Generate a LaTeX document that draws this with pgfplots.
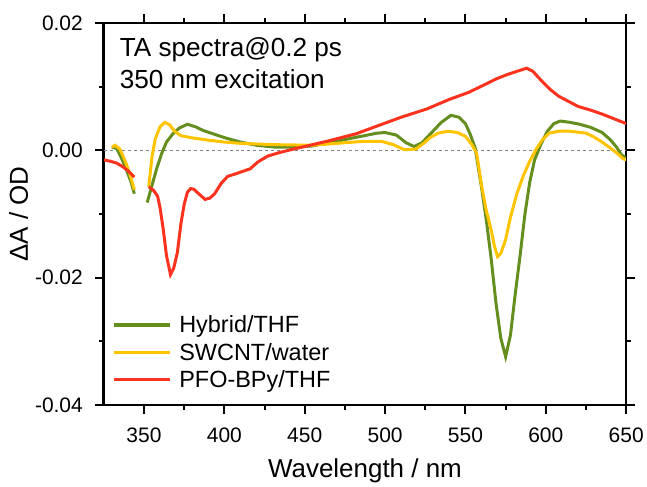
\documentclass[border=0pt]{standalone}
\usepackage{fontspec}
\setmainfont{Liberation Sans}
\usepackage{pgfplots}
\pgfplotsset{compat=1.18}
\definecolor{cgreen}{RGB}{100,142,30}
\definecolor{cyellow}{RGB}{255,195,0}
\definecolor{cred}{RGB}{250,50,30}
\begin{document}
\begin{tikzpicture}
\begin{axis}[
  name=ax,
  scale only axis,
  width=523.5pt, height=383pt,
  xmin=325, xmax=650, ymin=-0.04, ymax=0.02,
  xtick={350,400,...,650},
  ytick={-0.04,-0.02,0,0.02},
  minor x tick num=1, minor y tick num=1,
  tick align=outside,
  major tick length=8.5pt, minor tick length=4.5pt,
  every tick/.style={black, line width=2pt},
  axis line style={line width=2.6pt},
  tick label style={font=\fontsize{21}{25}\selectfont},
  xticklabel shift=11pt,
  yticklabel shift=9pt,
  /pgf/number format/assume math mode=true,
  yticklabel style={/pgf/number format/.cd, fixed, fixed zerofill, precision=2},
  scaled y ticks=false,
  xlabel={Wavelength / nm},
  ylabel={ΔA / OD},
  label style={font=\fontsize{26}{30}\selectfont},
  xlabel style={yshift=-9pt},
  unbounded coords=jump,
  legend style={draw=none, fill=none, at={(rel axis cs:0.016,0.138)}, anchor=west,
    font=\fontsize{23.5}{27}\selectfont, row sep=5pt, inner sep=0pt},
  legend cell align=left,
  legend image code/.code={\draw[#1, line width=3.2pt] (0pt,0pt) -- (56pt,0pt); \path (62pt,0pt);},
  every axis plot/.append style={line width=3pt},
]
\addplot[gray, dashed, line width=1pt, forget plot] coordinates {(325,0) (650,0)};
\addplot[cgreen] table {
x y
330 0.0005
333 0.0003
336 -0.0012
339 -0.0030
342 -0.0050
344 -0.0068
348 nan
352 -0.0082
355 -0.0055
358 -0.0028
361 -0.0005
364 0.0013
368 0.0026
372 0.0035
377 0.0041
382 0.0037
387 0.0031
393 0.0026
400 0.0020
410 0.0013
420 0.0008
432 0.0005
445 0.0005
455 0.0007
465 0.0012
475 0.0017
485 0.0022
495 0.0027
500 0.0028
507 0.0024
513 0.0012
518 0.0006
523 0.0012
529 0.0028
535 0.0044
541 0.0055
546 0.0052
550 0.0042
553 0.0025
556 0.0004
560 -0.0058
563 -0.0110
566 -0.0170
569 -0.0240
572 -0.0295
575 -0.0324
578 -0.0290
581 -0.0225
584 -0.0165
587 -0.0100
590 -0.0050
593 -0.0015
597 0.0010
601 0.0030
605 0.0042
609 0.0046
615 0.0044
621 0.0041
628 0.0036
635 0.0028
640 0.0017
644 0.0005
647 -0.0007
650 -0.0012
};
\addlegendentry{Hybrid/THF}
\addplot[cyellow] table {
x y
330 0.0005
332 0.0008
335 0.0002
338 -0.0015
341 -0.0035
344 -0.0062
348 nan
353 -0.0057
355 -0.0010
357 0.0018
360 0.0037
363 0.0044
366 0.0040
369 0.0030
373 0.0023
379 0.0020
390 0.0016
400 0.0013
410 0.0011
430 0.0009
455 0.0008
465 0.0010
475 0.0012
486 0.0014
498 0.0014
505 0.0009
512 0.0001
519 0.0002
524 0.0011
528 0.0020
533 0.0027
539 0.0030
545 0.0028
550 0.0022
554 0.0009
557 -0.0005
560 -0.0055
563 -0.0095
566 -0.0125
568 -0.0150
570 -0.0167
572 -0.0162
575 -0.0140
578 -0.0105
582 -0.0068
586 -0.0040
590 -0.0017
594 0.0002
598 0.0017
602 0.0027
608 0.0030
615 0.0030
625 0.0027
630 0.0021
635 0.0013
640 0.0004
645 -0.0006
648 -0.0013
650 -0.0015
};
\addlegendentry{SWCNT/water}
\addplot[cred] table {
x y
325 -0.0015
329 -0.0017
333 -0.0020
337 -0.0026
340 -0.0032
344 -0.0042
348 nan
353 -0.0057
356 -0.0063
358.5 -0.0072
360 -0.0090
362 -0.0124
364 -0.0165
366.5 -0.0195
368.5 -0.0185
370.8 -0.0160
373 -0.0115
375 -0.0085
377 -0.0066
379 -0.0060
381 -0.0061
384 -0.0068
388 -0.0077
391 -0.0075
394 -0.0068
398 -0.0052
402 -0.0041
408 -0.0036
416 -0.0029
421 -0.0018
427 -0.0009
435 -0.0003
443 0.0002
455 0.0009
465 0.0015
482 0.0026
497 0.0040
510 0.0052
526 0.0065
540 0.0080
552 0.0091
561 0.0102
569 0.0112
576 0.0119
582 0.0124
588 0.0129
592 0.0124
597 0.0110
603 0.0095
608 0.0085
614 0.0077
620 0.0069
628 0.0063
635 0.0057
642 0.0050
648 0.0044
650 0.0042
};
\addlegendentry{PFO-BPy/THF}
\node[anchor=base west, font=\fontsize{26.2}{30}\selectfont] at (rel axis cs:0.024,0.911) {TA spectra@0.2 ps};
\node[anchor=base west, font=\fontsize{26.2}{30}\selectfont] at (rel axis cs:0.024,0.828) {350 nm excitation};
\end{axis}
\path ([xshift=-104pt,yshift=-80pt]ax.south west) rectangle ([xshift=19.5pt,yshift=23pt]ax.north east);
\end{tikzpicture}
\end{document}
